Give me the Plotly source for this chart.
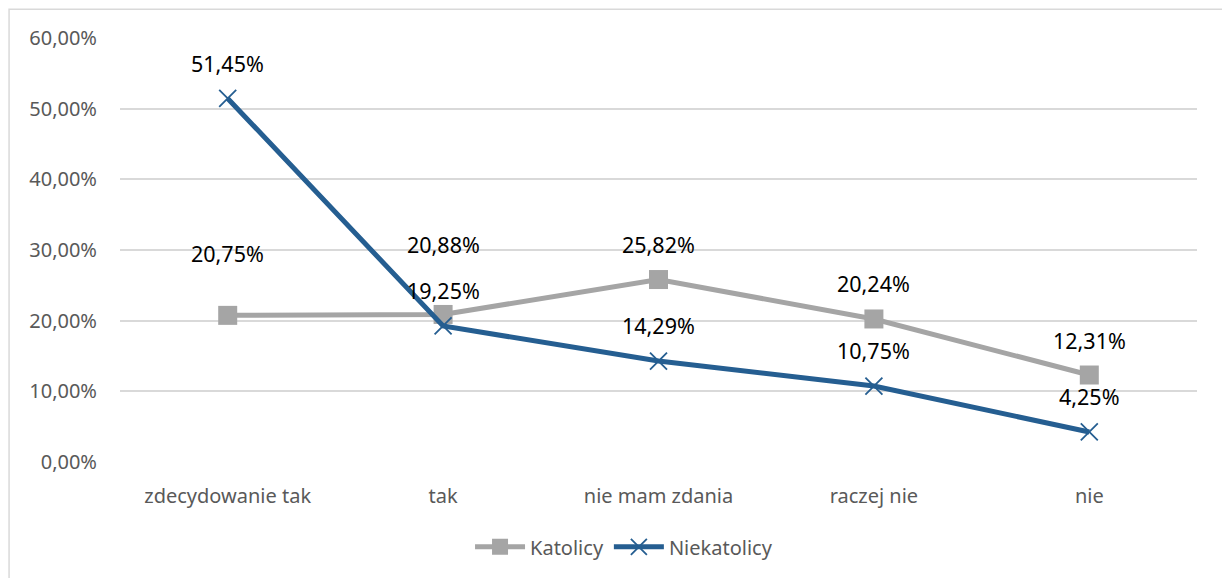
import plotly.graph_objects as go

categories = ["zdecydowanie tak", "tak", "nie mam zdania", "raczej nie", "nie"]
katolicy = [20.75, 20.88, 25.82, 20.24, 12.31]
niekatolicy = [51.45, 19.25, 14.29, 10.75, 4.25]
y_ticks = [0, 10, 20, 30, 40, 50, 60]
y_tick_labels = ["0,00%", "10,00%", "20,00%", "30,00%", "40,00%", "50,00%", "60,00%"]

# label offsets (px above each point)
kat_label_shift = [62, 70, 35, 35, 35]
niekat_label_shift = [35, 35, 36, 36, 35]

GRAY = "#A5A5A5"
BLUE = "#255E91"
FONT = "Noto Sans"


def pl(v):
    return f"{v:.2f}".replace(".", ",") + "%"


fig = go.Figure()
fig.add_trace(go.Scatter(
    x=categories, y=katolicy, name="Katolicy", mode="lines+markers",
    line=dict(color=GRAY, width=5),
    marker=dict(symbol="square", size=19, color=GRAY),
))
fig.add_trace(go.Scatter(
    x=categories, y=niekatolicy, name="Niekatolicy", mode="lines+markers",
    line=dict(color=BLUE, width=5),
    marker=dict(symbol="x-thin", size=17, color=BLUE, line=dict(color=BLUE, width=1.8)),
))

annotations = []
for c, v, s in zip(categories, katolicy, kat_label_shift):
    annotations.append(dict(x=c, y=v, text=pl(v), showarrow=False, yshift=s,
                            font=dict(family=FONT, size=21.5, color="#000000")))
for c, v, s in zip(categories, niekatolicy, niekat_label_shift):
    annotations.append(dict(x=c, y=v, text=pl(v), showarrow=False, yshift=s,
                            font=dict(family=FONT, size=21.5, color="#000000")))

fig.update_layout(
    width=1222, height=578,
    margin=dict(l=120, r=25, t=38, b=116),
    paper_bgcolor="white", plot_bgcolor="white",
    font=dict(family=FONT, size=20, color="#595959"),
    annotations=annotations,
    showlegend=True,
    legend=dict(orientation="h", x=0.468, xanchor="center", y=-0.2, yanchor="middle",
                font=dict(family=FONT, size=20, color="#595959"),
                itemwidth=50, traceorder="normal"),
    shapes=[
        dict(type="rect", xref="paper", yref="paper", x0=-0.103, x1=1.2,
             y0=-0.5, y1=1.068, line=dict(color="#D9D9D9", width=1.5),
             fillcolor="rgba(0,0,0,0)", layer="below"),
    ],
)
fig.update_xaxes(
    range=[-0.5, 4.5], showgrid=False, zeroline=False, showline=False,
    ticks="", ticklabelstandoff=20,
    tickfont=dict(family=FONT, size=20, color="#595959"),
)
fig.update_yaxes(
    range=[0, 60], tickvals=y_ticks, ticktext=y_tick_labels,
    showgrid=True, gridcolor="#D9D9D9", gridwidth=1.5, zeroline=False, showline=False,
    ticks="", ticklabelstandoff=22,
    tickfont=dict(family=FONT, size=20, color="#595959"),
)

fig.write_html("out.html")
